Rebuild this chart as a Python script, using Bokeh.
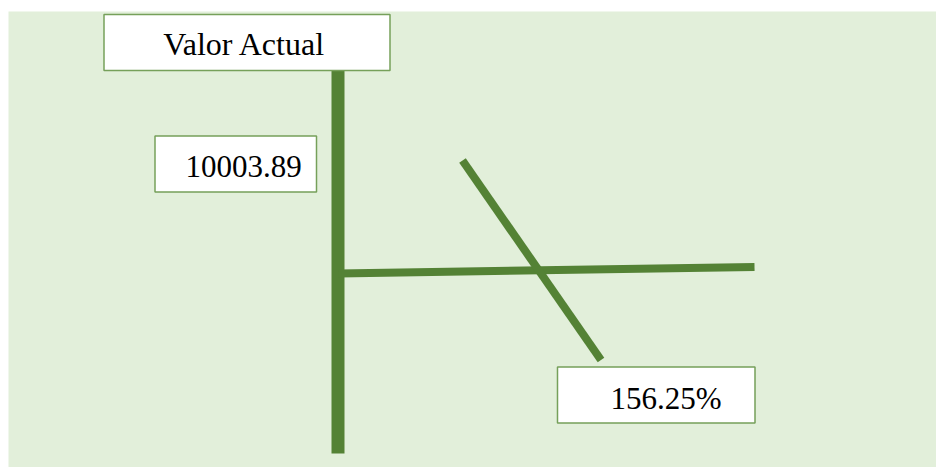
from bokeh.plotting import figure
from bokeh.models import Range1d
from bokeh.core.properties import value
from bokeh.embed import file_html
from bokeh.resources import INLINE

# ---- data ----
titulo = ["Valor Actual"]
valor_actual = [10003.89]
porcentaje = [156.25]

BG = "#E2EFDA"
GREEN = "#548235"
BORDER = "#76A05A"
FONT = value("Liberation Serif")

p = figure(width=936, height=467, output_backend="svg", toolbar_location=None,
           x_range=Range1d(8, 936), y_range=Range1d(467, 11),
           min_border_left=8, min_border_right=0, min_border_bottom=0, min_border_top=11)
p.axis.visible = False
p.grid.visible = False
p.background_fill_color = BG
p.border_fill_color = "white"
p.outline_line_color = None

# lines
p.segment(x0=[337.5], y0=[70], x1=[337.5], y1=[453], line_width=13, line_color=GREEN, line_cap="butt")
p.segment(x0=[338], y0=[273], x1=[754], y1=[266.5], line_width=8, line_color=GREEN, line_cap="butt")
p.segment(x0=[462], y0=[160], x1=[600.5], y1=[359.5], line_width=8, line_color=GREEN, line_cap="butt")

# boxes
p.quad(left=[103.5, 154.5, 557], right=[389.5, 316, 754.5], top=[14, 135.5, 366.5], bottom=[70, 191.5, 422.5],
       fill_color="white", line_color=BORDER, line_width=1.5)

# texts (middle baseline, placed at visual centre of the glyphs)
p.text(x=[244], y=[43], text=titulo, text_font=FONT, text_font_size="32px",
       text_align="center", text_baseline="middle", text_color="black")
p.text(x=[185], y=[166], text=[f"{v:.2f}" for v in valor_actual], text_font=FONT, text_font_size="31px",
       text_align="left", text_baseline="middle", text_color="black")
p.text(x=[610], y=[397.5], text=[f"{v:.2f}%" for v in porcentaje], text_font=FONT, text_font_size="31px",
       text_align="left", text_baseline="middle", text_color="black")

open("out.html", "w").write(file_html(p, INLINE))
